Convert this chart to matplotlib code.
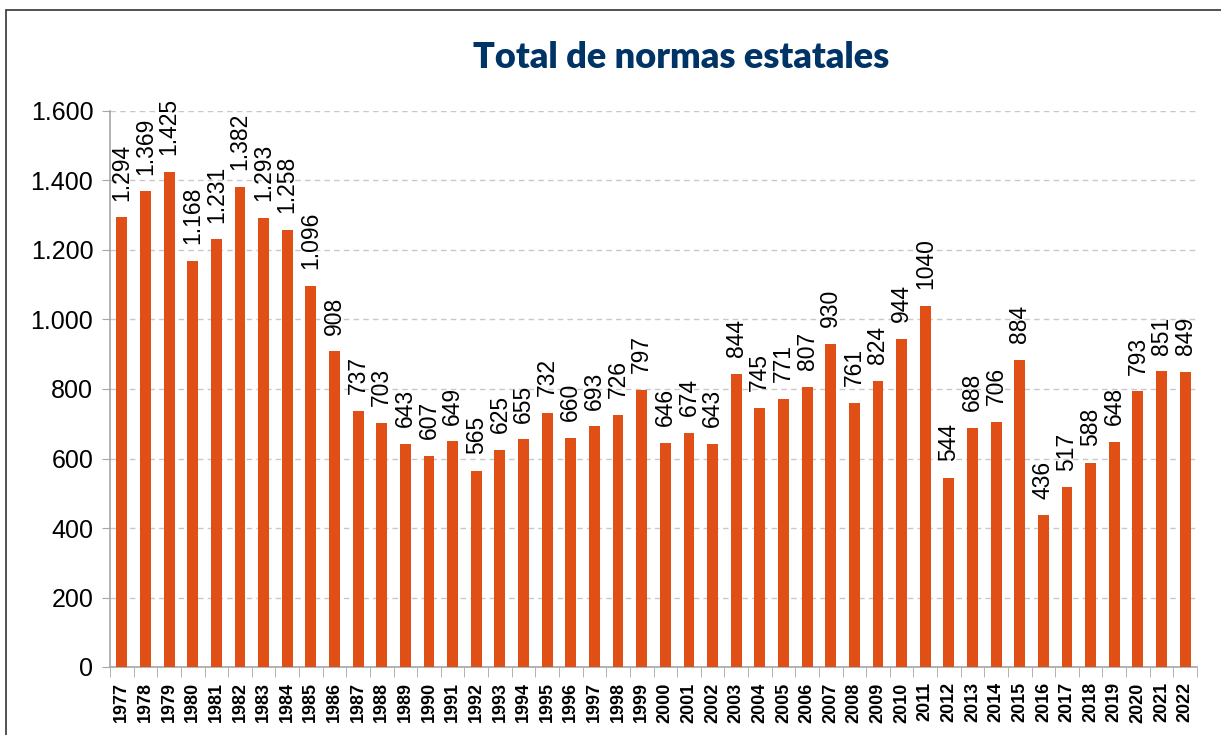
import numpy as np
import matplotlib
matplotlib.use("Agg")
import matplotlib.pyplot as plt
from matplotlib.patches import Rectangle

# datos: total de normas estatales por año
years = list(range(1977, 2023))
values = [1294, 1369, 1425, 1168, 1231, 1382, 1293, 1258, 1096, 908,
          737, 703, 643, 607, 649, 565, 625, 655, 732, 660,
          693, 726, 797, 646, 674, 643, 844, 745, 771, 807,
          930, 761, 824, 944, 1040, 544, 688, 706, 884, 436,
          517, 588, 648, 793, 851, 849]
yticks = [0, 200, 400, 600, 800, 1000, 1200, 1400, 1600]


def miles(v):
    return f"{v:,}".replace(",", ".")


# en el original el 1040 va sin separador
labels = [miles(v) if y < 1990 else str(v) for y, v in zip(years, values)]

plt.rcParams['font.family'] = ['Liberation Sans', 'DejaVu Sans']

fig = plt.figure(figsize=(12.21, 7.35), dpi=100)
ax = fig.add_axes([110/1221, 1-667/735, (1197-110)/1221, (667-111)/735])

x = np.arange(len(years))
bars = ax.bar(x, values, width=0.46, color='#E05016', zorder=3)

for xi, v, lab in zip(x, values, labels):
    ax.annotate(lab, (xi, v), xytext=(0, 12), textcoords='offset points',
                rotation=90, ha='center', va='bottom', fontsize=16.5)

ax.set_xlim(-0.5, len(years) - 0.5)
ax.set_ylim(0, 1600)
ax.set_yticks(yticks)
ax.set_yticklabels([miles(t) for t in yticks], fontsize=18)
ax.set_xticks(x)
ax.set_xticklabels([str(y) for y in years], rotation=90, fontsize=13,
                   fontweight='bold')
ax.set_xticks(np.arange(-0.5, len(years)), minor=True)
ax.tick_params(axis='x', which='major', length=0, pad=11)
ax.tick_params(axis='x', which='minor', length=7, color='#A6A6A6')
ax.tick_params(axis='y', length=6, color='#A6A6A6', pad=6)

ax.grid(axis='y', color='#C8C8C8', linestyle=(0, (4, 3)), linewidth=1, zorder=0)
for s in ['top', 'right']:
    ax.spines[s].set_visible(False)
for s in ['left', 'bottom']:
    ax.spines[s].set_color('#A6A6A6')
    ax.spines[s].set_linewidth(1.2)

fig.text(681/1221, 1-57/735, 'Total de normas estatales', ha='center', va='center',
         fontsize=26, fontweight='heavy', color='#003366', family=['Lato', 'DejaVu Sans'])

# marco exterior
fig.patches.append(Rectangle((6/1221, -0.02), 1.0, 1-10/735+0.02,
                             transform=fig.transFigure, fill=False,
                             edgecolor='#333333', linewidth=1.2))

plt.savefig('out.png', dpi=100)
